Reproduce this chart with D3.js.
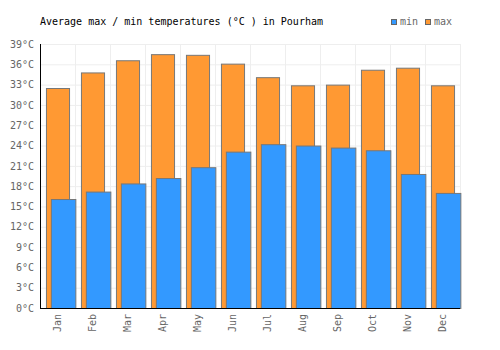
<!DOCTYPE html>
<html>
<head>
<meta charset="utf-8">
<script src="https://cdn.jsdelivr.net/npm/d3@7"></script>
<style>
  body { margin: 0; background: #fff; }
  text { font-family: "DejaVu Sans Mono", monospace; }
</style>
</head>
<body>
<div id="chart"></div>
<script>
const months = ["Jan", "Feb", "Mar", "Apr", "May", "Jun", "Jul", "Aug", "Sep", "Oct", "Nov", "Dec"];
const maxTemps = [32.5, 34.8, 36.6, 37.5, 37.4, 36.1, 34.1, 32.9, 33.0, 35.2, 35.5, 32.9];
const minTemps = [16.1, 17.2, 18.4, 19.2, 20.8, 23.1, 24.2, 24.0, 23.7, 23.3, 19.8, 17.0];
const yTicks = [0, 3, 6, 9, 12, 15, 18, 21, 24, 27, 30, 33, 36, 39];

const margin = {top: 44, right: 40, bottom: 42, left: 40};
const width = 500 - margin.left - margin.right;
const height = 350 - margin.top - margin.bottom;

const svg = d3.select("#chart")
    .append("svg")
    .attr("width", 500)
    .attr("height", 350);

const g = svg.append("g")
    .attr("transform", "translate(" + margin.left + "," + margin.top + ")");

const xScale = d3.scaleBand()
    .domain(months)
    .range([0, width]);

const yScale = d3.scaleLinear()
    .domain([0, 39])
    .range([height, 0]);

// grid
g.selectAll(".hgrid")
    .data(yTicks)
    .enter().append("line")
    .attr("x1", 0)
    .attr("x2", width)
    .attr("y1", d => yScale(d) + 0.5)
    .attr("y2", d => yScale(d) + 0.5)
    .attr("stroke", "#eeeeee");

g.selectAll(".vgrid")
    .data(months)
    .enter().append("line")
    .attr("x1", d => xScale(d) + xScale.bandwidth() + 0.5)
    .attr("x2", d => xScale(d) + xScale.bandwidth() + 0.5)
    .attr("y1", 0)
    .attr("y2", height)
    .attr("stroke", "#eeeeee");

const bw = xScale.bandwidth();

g.selectAll(".max")
    .data(months)
    .enter().append("rect")
    .attr("x", d => xScale(d) + bw * 0.17 + 0.5)
    .attr("y", (d, i) => yScale(maxTemps[i]) + 0.5)
    .attr("width", bw * 0.66)
    .attr("height", (d, i) => height - yScale(maxTemps[i]))
    .attr("fill", "#ff9933")
    .attr("stroke", "#777");

g.selectAll(".min")
    .data(months)
    .enter().append("rect")
    .attr("x", d => xScale(d) + bw * 0.31 + 0.5)
    .attr("y", (d, i) => yScale(minTemps[i]) + 0.5)
    .attr("width", bw * 0.7)
    .attr("height", (d, i) => height - yScale(minTemps[i]))
    .attr("fill", "#3399ff")
    .attr("stroke", "#777");

// axes
const yAxis = g.append("g")
    .call(d3.axisLeft(yScale).tickValues(yTicks).tickSize(0).tickPadding(6).tickFormat(d => d + "°C"));
yAxis.select(".domain").remove();
yAxis.selectAll("text").attr("fill", "#666").attr("font-size", "10px")
    .attr("font-family", "DejaVu Sans Mono, monospace");

const xAxis = g.append("g")
    .attr("transform", "translate(0," + height + ")")
    .call(d3.axisBottom(xScale).tickSize(0));
xAxis.select(".domain").remove();
xAxis.selectAll("text")
    .attr("fill", "#666")
    .attr("font-size", "10px")
    .attr("font-family", "DejaVu Sans Mono, monospace")
    .attr("transform", "rotate(-90)")
    .attr("text-anchor", "end")
    .attr("dy", "0.35em")
    .attr("y", 0)
    .attr("x", -6);

g.append("line")
    .attr("x1", 0.5).attr("x2", 0.5)
    .attr("y1", 0).attr("y2", height)
    .attr("stroke", "#000");
g.append("line")
    .attr("x1", 0).attr("x2", width)
    .attr("y1", height + 0.5).attr("y2", height + 0.5)
    .attr("stroke", "#000");

// title
svg.append("text")
    .attr("x", 40)
    .attr("y", 25)
    .attr("font-size", "10px")
    .attr("fill", "#000")
    .text("Average max / min temperatures (°C ) in Pourham");

// legend
const legend = [{name: "min", color: "#3399ff", x: 391}, {name: "max", color: "#ff9933", x: 425}];
const lg = svg.selectAll(".legend")
    .data(legend)
    .enter().append("g")
    .attr("transform", d => "translate(" + d.x + ",19)");
lg.append("rect")
    .attr("x", 0.5).attr("y", 0.5)
    .attr("width", 5).attr("height", 5)
    .attr("fill", d => d.color)
    .attr("stroke", "#666");
lg.append("text")
    .attr("x", 9)
    .attr("y", 6)
    .attr("font-size", "10px")
    .attr("fill", "#666")
    .text(d => d.name);
</script>
</body>
</html>
